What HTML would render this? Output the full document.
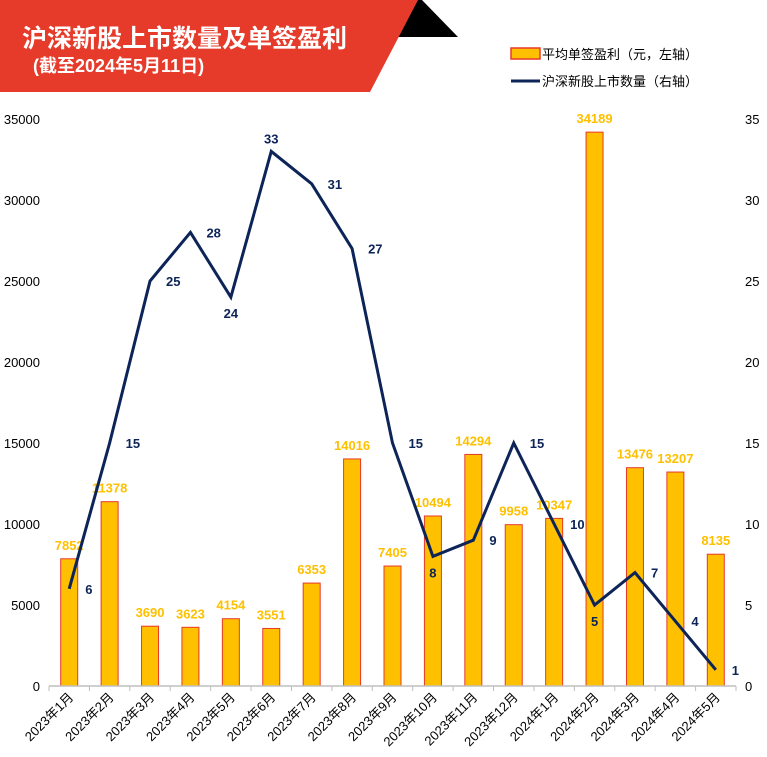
<!DOCTYPE html>
<html><head><meta charset="utf-8"><style>
body{margin:0;background:#fff;}
svg{display:block;font-family:"Liberation Sans","Noto Sans CJK SC",sans-serif;}
</style></head><body>
<svg id="c" width="767" height="757" xmlns="http://www.w3.org/2000/svg">
<polygon points="400,0 422,0 458,37 384,37" fill="#000"/>
<polygon points="0,0 418,0 370,92 0,92" fill="#e63a2a"/>
<text x="22" y="47" fill="#fff" font-size="25" font-weight="bold">沪深新股上市数量及单签盈利</text>
<text x="33" y="72" fill="#fff" font-size="18" font-weight="bold">(截至2024年5月11日)</text>
<rect x="511" y="48" width="29" height="11" fill="#ffc000" stroke="#e8382a" stroke-width="1.5"/>
<text x="542" y="59" font-size="13" fill="#000">平均单签盈利（元，左轴）</text>
<line x1="511" y1="81" x2="540" y2="81" stroke="#0d2458" stroke-width="3"/>
<text x="542" y="86" font-size="13" fill="#000">沪深新股上市数量（右轴）</text>
<g id="plot"></g>
</svg>
<script>
const categories=["2023年1月","2023年2月","2023年3月","2023年4月","2023年5月","2023年6月","2023年7月","2023年8月","2023年9月","2023年10月","2023年11月","2023年12月","2024年1月","2024年2月","2024年3月","2024年4月","2024年5月"];
const profit=[7852,11378,3690,3623,4154,3551,6353,14016,7405,10494,14294,9958,10347,34189,13476,13207,8135];
const ipoCount=[6,15,25,28,24,33,31,27,15,8,9,15,10,5,7,4,1];
const leftTicks=[0,5000,10000,15000,20000,25000,30000,35000];
const rightTicks=[0,5,10,15,20,25,30,35];
const NS="http://www.w3.org/2000/svg";
const g=document.getElementById('plot');
const X0=49,X1=736,Y0=686,Y1=119;
const step=(X1-X0)/categories.length;
const xc=i=>X0+step*(i+0.5);
const yl=v=>Y0-(v/35000)*(Y0-Y1);
const yr=v=>Y0-(v/35)*(Y0-Y1);
function mk(t,a,txt){const e=document.createElementNS(NS,t);for(const k in a)e.setAttribute(k,a[k]);if(txt!==undefined)e.textContent=txt;g.appendChild(e);return e;}
leftTicks.forEach(v=>{const e=mk('text',{x:40,y:yl(v)+5,'text-anchor':'end','font-size':13,fill:'#000'},v);

});
rightTicks.forEach(v=>{const e=mk('text',{x:745,y:yr(v)+5,'font-size':13,fill:'#000'},v);

});
profit.forEach((v,i)=>{
const b=mk('rect',{x:xc(i)-8.5,y:yl(v),width:17,height:Y0-yl(v),fill:'#ffc000',stroke:'#e8382a','stroke-width':1});


const t=mk('text',{x:xc(i),y:yl(v)-9,'text-anchor':'middle','font-size':13,'font-weight':'bold',fill:'#ffc000'},v);


});
const ax=mk('line',{x1:X0,y1:Y0,x2:X1,y2:Y0,stroke:'#bfbfbf','stroke-width':1.5});


for(let i=0;i<=categories.length;i++){const tk=mk('line',{x1:X0+step*i,y1:Y0,x2:X0+step*i,y2:Y0+5,stroke:'#bfbfbf'});

}
categories.forEach((c,i)=>{const x=xc(i)+5,y=Y0+12;
const t=mk('text',{x:x,y:y,'text-anchor':'end','font-size':13,fill:'#000',transform:`rotate(-45 ${x} ${y})`},c);

});
const pts=ipoCount.map((v,i)=>xc(i)+','+yr(v)).join(' ');
const pl=mk('polyline',{points:pts,fill:'none',stroke:'#0d2458','stroke-width':3,'stroke-linejoin':'miter'});


ipoCount.forEach((v,i)=>{
const last=ipoCount.length-1;
const prev=i>0?ipoCount[i-1]:Infinity,next=i<last?ipoCount[i+1]:-Infinity;
let dx=16,dy=5;
if(i>0&&i<last&&v<prev&&v<next){dx=0;dy=21;}
else if(i>0&&i<last&&v>prev&&v>next&&v>30){dx=0;dy=-8;}
const t=mk('text',{x:xc(i)+dx,y:yr(v)+dy,'text-anchor':dx?'start':'middle','font-size':13,'font-weight':'bold',fill:'#0d2458'},v);


});
</script>
</body></html>
